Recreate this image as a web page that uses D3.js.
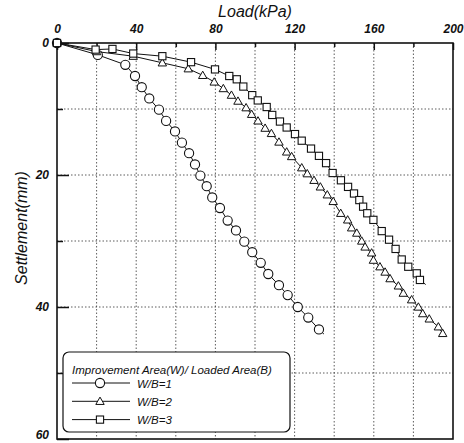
<!DOCTYPE html>
<html>
<head>
<meta charset="utf-8">
<script src="https://cdn.jsdelivr.net/npm/d3@7"></script>
<style>
  body { margin: 0; background: #fff; }
  svg text { font-family: "Liberation Sans", Arial, sans-serif; font-style: italic; fill: #111; }
</style>
</head>
<body>
<div id="chart"></div>
<script>
// load (kPa) vs settlement (mm)
var loadWB1 = [0, 20.6, 34.5, 39.4, 42.8, 46.6, 51.5, 55.1, 59.6, 63.1, 66.7, 69.7, 72.4, 75.6, 78.4, 82.3, 86.2, 90.4, 94.6, 98.6, 102.9, 106.7, 112.1, 116.5, 121.6, 126.9, 132.3, 134.8];
var settleWB1 = [0, 1.8, 3.3, 5.0, 6.7, 8.4, 10.1, 11.8, 13.4, 15.1, 16.7, 18.4, 20.1, 21.7, 23.4, 25.0, 26.9, 28.4, 30.1, 31.7, 33.3, 35.0, 36.7, 38.2, 40.0, 41.6, 43.4, 44.1];

var loadWB2 = [0, 20.0, 38.5, 53.2, 66.3, 73.6, 79.4, 84.0, 88.1, 91.4, 95.5, 98.3, 101.5, 105.1, 108.3, 112.1, 116.0, 118.5, 123.6, 126.4, 129.8, 133.0, 136.5, 139.5, 143.3, 146.8, 148.8, 151.4, 153.9, 155.6, 158.9, 159.8, 163.1, 165.7, 168.2, 172.4, 174.9, 179.1, 182.5, 184.7, 188.0, 192.6, 194.8, 196.5];
var settleWB2 = [0, 1.3, 2.0, 3.0, 3.9, 4.9, 5.9, 6.9, 7.9, 8.8, 9.8, 10.8, 11.8, 12.9, 13.7, 15.0, 16.5, 17.2, 18.9, 19.8, 20.8, 21.8, 23.0, 24.0, 25.8, 26.8, 28.0, 28.8, 30.0, 30.9, 31.8, 32.9, 33.9, 34.7, 35.7, 36.8, 37.9, 38.9, 40.0, 41.0, 41.8, 43.0, 44.0, 44.4];

var loadWB3 = [0, 19.5, 28.0, 38.5, 53.2, 67.7, 79.8, 87.0, 90.8, 94.1, 98.6, 101.4, 105.9, 108.7, 112.6, 116.0, 120.2, 123.6, 128.3, 132.3, 135.9, 139.2, 143.4, 147.0, 150.0, 152.7, 154.6, 156.7, 159.8, 164.0, 167.7, 171.0, 174.1, 177.4, 181.7, 183.3, 186.2];
var settleWB3 = [0, 1.0, 0.9, 1.6, 2.0, 2.9, 4.0, 5.0, 5.5, 6.6, 7.9, 8.7, 9.7, 10.9, 11.9, 12.8, 13.8, 14.8, 16.0, 17.1, 18.2, 19.7, 20.8, 21.8, 22.8, 23.8, 24.8, 25.8, 26.8, 28.5, 29.8, 31.2, 32.8, 33.9, 34.9, 35.9, 36.6];

var seriesNames = ["W/B=1", "W/B=2", "W/B=3"];
var markerTypes = ["circle", "triangle", "square"];
var xTicks = [0, 40, 80, 120, 160, 200];
var yTicks = [0, 20, 40, 60];

var width = 464, height = 443;
var margin = {top: 43, right: 11, bottom: 4, left: 57};

var svg = d3.select("#chart").append("svg")
  .attr("width", width)
  .attr("height", height);

var x = d3.scaleLinear().domain([0, 200]).range([margin.left, width - margin.right]);
var y = d3.scaleLinear().domain([0, 60]).range([margin.top, height - margin.bottom]);

// dotted grid
var grid = svg.append("g");
grid.selectAll("line.gx")
  .data(d3.range(20, 200, 20))
  .enter().append("line")
  .attr("x1", d => x(d)).attr("x2", d => x(d))
  .attr("y1", y(0)).attr("y2", y(60))
  .attr("stroke", "#333").attr("stroke-width", 0.8)
  .attr("stroke-dasharray", "1.5,2");
grid.selectAll("line.gy")
  .data(d3.range(10, 60, 10))
  .enter().append("line")
  .attr("y1", d => y(d)).attr("y2", d => y(d))
  .attr("x1", x(0)).attr("x2", x(200))
  .attr("stroke", "#333").attr("stroke-width", 0.8)
  .attr("stroke-dasharray", "1.5,2");

// axes: top labels, left labels, ticks inward
var topAxis = d3.axisTop(x).tickValues(xTicks).tickSize(-7).tickPadding(10);
var gTop = svg.append("g").attr("transform", "translate(0," + y(0) + ")").call(topAxis);
var minorTop = d3.axisTop(x).tickValues(d3.range(20, 200, 40)).tickSize(-4).tickFormat("");
svg.append("g").attr("transform", "translate(0," + y(0) + ")").call(minorTop);

var leftAxis = d3.axisLeft(y).tickValues(yTicks).tickSize(-12).tickPadding(8);
var gLeft = svg.append("g").attr("transform", "translate(" + x(0) + ",0)").call(leftAxis);
var minorLeft = d3.axisLeft(y).tickValues([10, 30, 50]).tickSize(-6).tickFormat("");
svg.append("g").attr("transform", "translate(" + x(0) + ",0)").call(minorLeft);

svg.selectAll(".domain").remove();
svg.selectAll(".tick line").attr("stroke", "#111").attr("stroke-width", 1.5);
svg.selectAll(".tick text")
  .style("font-size", "12px").style("font-weight", "bold").attr("fill", "#222");
// the bottom label sits at the page edge; lift it a little so it stays whole
gLeft.selectAll(".tick text").filter(d => d === 60).attr("dy", "-0.05em");

// frame
svg.append("rect")
  .attr("x", x(0)).attr("y", y(0))
  .attr("width", x(200) - x(0)).attr("height", y(60) - y(0))
  .attr("fill", "none").attr("stroke", "#111").attr("stroke-width", 1.6);

// titles
svg.append("text")
  .attr("x", (x(0) + x(200)) / 2).attr("y", 17)
  .attr("text-anchor", "middle")
  .style("font-size", "16px")
  .text("Load(kPa)");
svg.append("text")
  .attr("transform", "translate(27," + 228 + ") rotate(-90)")
  .attr("text-anchor", "middle")
  .style("font-size", "16px")
  .text("Settlement(mm)");

function drawMarker(g, type, cx, cy) {
  if (type === "circle") {
    g.append("circle").attr("cx", cx).attr("cy", cy).attr("r", 4.6)
      .attr("fill", "#fff").attr("stroke", "#111").attr("stroke-width", 1.1);
  } else if (type === "triangle") {
    var s = 4.2;
    g.append("path")
      .attr("d", "M" + cx + "," + (cy - s) + "L" + (cx + s) + "," + (cy + s * 0.75) + "L" + (cx - s) + "," + (cy + s * 0.75) + "Z")
      .attr("fill", "#fff").attr("stroke", "#111").attr("stroke-width", 1);
  } else {
    var h = 3.6;
    g.append("rect").attr("x", cx - h).attr("y", cy - h).attr("width", 2 * h).attr("height", 2 * h)
      .attr("fill", "#fff").attr("stroke", "#111").attr("stroke-width", 1.1);
  }
}

var series = [
  {loads: loadWB1, settles: settleWB1},
  {loads: loadWB2, settles: settleWB2},
  {loads: loadWB3, settles: settleWB3}
];

var line = d3.line().x(d => x(d[0])).y(d => y(d[1]));

series.forEach(function(s, i) {
  var pts = s.loads.map((v, j) => [v, s.settles[j]]);
  var g = svg.append("g");
  g.append("path").datum(pts)
    .attr("d", line)
    .attr("fill", "none").attr("stroke", "#111").attr("stroke-width", 1);
  // last point is the end of the line, without a marker
  pts.slice(0, pts.length - 1).forEach(function(p) {
    drawMarker(g, markerTypes[i], x(p[0]), y(p[1]));
  });
});

// legend
var lg = svg.append("g");
lg.append("rect")
  .attr("x", 63).attr("y", 352).attr("width", 227).attr("height", 80)
  .attr("rx", 6).attr("ry", 6)
  .attr("fill", "#fff").attr("stroke", "#111").attr("stroke-width", 1.2);
lg.append("text")
  .attr("x", 72).attr("y", 374)
  .style("font-size", "11.5px")
  .text("Improvement Area(W)/ Loaded Area(B)");
seriesNames.forEach(function(name, i) {
  var ly = 383 + i * 18.3;
  lg.append("line")
    .attr("x1", 72).attr("x2", 130).attr("y1", ly).attr("y2", ly)
    .attr("stroke", "#111").attr("stroke-width", 1);
  drawMarker(lg, markerTypes[i], 100, ly);
  lg.append("text")
    .attr("x", 137).attr("y", ly + 4.5)
    .style("font-size", "11.5px")
    .text(name);
});
</script>
</body>
</html>
